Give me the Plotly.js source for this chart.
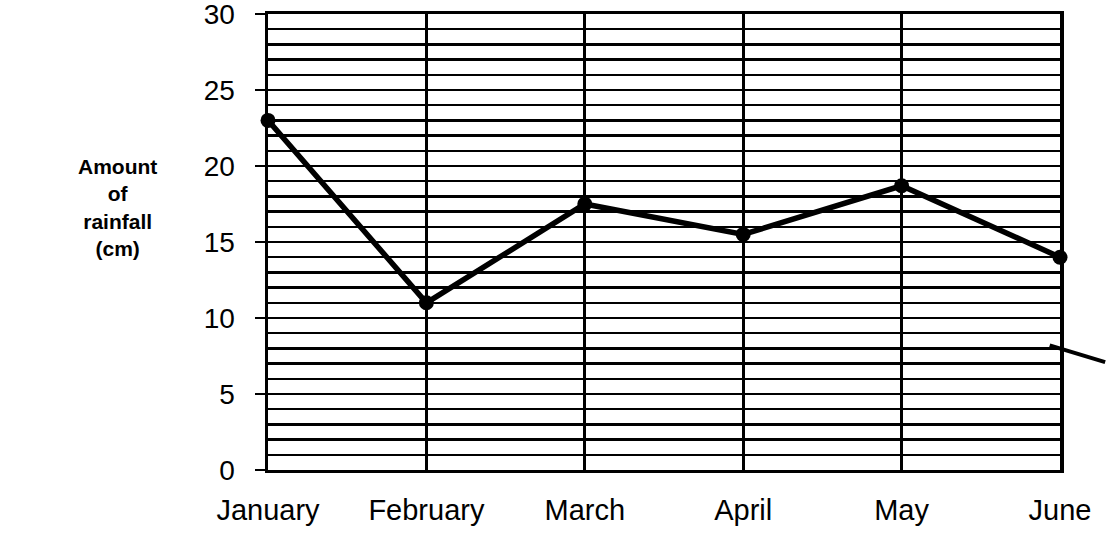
<!DOCTYPE html>
<html>
<head>
<meta charset="utf-8">
<script src="https://cdn.plot.ly/plotly-3.0.1.min.js"></script>
<style>html,body{margin:0;padding:0;background:#fff;}#chart{width:1108px;height:557px;}</style>
</head>
<body>
<div id="chart"></div>
<script>
const months = ["January", "February", "March", "April", "May", "June"];
const rainfall = [23, 11, 17.5, 15.5, 18.7, 14];
const yTickVals = [0, 5, 10, 15, 20, 25, 30];
const yTitleLines = ["Amount", "of", "rainfall", "(cm)"];

const trace = {
  x: months,
  y: rainfall,
  type: "scatter",
  mode: "lines+markers",
  line: {color: "#000", width: 5.5},
  marker: {color: "#000", size: 15},
  cliponaxis: false,
  hoverinfo: "skip"
};

const layout = {
  width: 1108, height: 557,
  margin: {l: 268, r: 48, t: 14, b: 87},
  paper_bgcolor: "#fff", plot_bgcolor: "#fff",
  showlegend: false,
  font: {family: "Liberation Sans, Arial, sans-serif", color: "#000"},
  xaxis: {
    type: "category",
    range: [0, 5],
    showgrid: true, gridcolor: "#000", gridwidth: 3,
    showline: true, linecolor: "#000", linewidth: 3, mirror: true,
    ticks: "", ticklabelstandoff: 12,
    tickfont: {size: 29, color: "#000"},
    zeroline: false, fixedrange: true
  },
  yaxis: {
    range: [0, 30],
    tickvals: yTickVals,
    showgrid: true, gridcolor: "#000", gridwidth: 2.5,
    minor: {dtick: 1, showgrid: true, gridcolor: "#000", gridwidth: 2.5},
    showline: true, linecolor: "#000", linewidth: 3.5, mirror: true,
    ticks: "outside", ticklen: 10, tickwidth: 2, tickcolor: "#000",
    ticklabelstandoff: 14,
    ticklabeloverflow: "allow",
    tickfont: {size: 28, color: "#000"},
    zeroline: false, fixedrange: true
  },
  annotations: [{
    text: "<b>" + yTitleLines.join("<br>") + "</b>",
    xref: "paper", yref: "paper",
    x: -0.19, y: 0.575,
    xanchor: "center", yanchor: "middle", align: "center",
    showarrow: false,
    font: {family: "Liberation Sans, Arial, sans-serif", size: 21, color: "#000"}
  }],
  shapes: [{
    type: "line", xref: "paper", yref: "y",
    x0: 0.987, y0: 8.2, x1: 1.057, y1: 7.1,
    line: {color: "#000", width: 4}
  }]
};

Plotly.newPlot("chart", [trace], layout, {displayModeBar: false, staticPlot: true});
</script>
</body>
</html>
